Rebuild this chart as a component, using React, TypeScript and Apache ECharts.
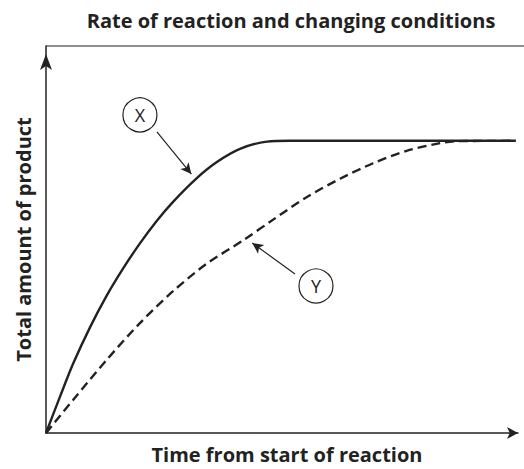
import React, { useEffect, useRef } from "react";
import * as echarts from "echarts";

// Time (arbitrary units, 0–100) and total product (0–100)
const curveX: [number, number][] = [
  [0, 0], [2.97, 9.4], [5.78, 18.0], [9.32, 27.3], [12.86, 35.5], [16.38, 42.6],
  [19.9, 49.0], [23.45, 54.8], [26.97, 59.8], [31.9, 65.8], [36.2, 70.0],
  [41.1, 73.4], [46.8, 75.3], [51.7, 75.5], [99.5, 75.5],
];
const curveY: [number, number][] = [
  [0, 0], [5.78, 8.6], [12.86, 18.9], [19.9, 28.4], [26.97, 36.7], [34.0, 43.7],
  [41.8, 49.8], [48.2, 55.2], [55.2, 60.9], [62.3, 65.7], [69.3, 69.7],
  [76.4, 72.9], [83.5, 74.9], [87.0, 75.4], [99.5, 75.5],
];
// Annotation labels: [x, y] of circle, arrow start, arrow end
const labelX = { name: "X", circle: [19.9, 82.2], from: [23.5, 77.8], to: [30.8, 66.9] };
const labelY = { name: "Y", circle: [57.2, 38.0], from: [52.75, 41.1], to: [43.7, 49.1] };

const titleText = "Rate of reaction and changing conditions";
const xName = "Time from start of reaction";
const yName = "Total amount of product";

const FONT = "'Open Sans', 'Noto Sans', sans-serif";

function annot(l: typeof labelX) {
  return {
    markPoint: {
      silent: true,
      symbol: "circle",
      symbolSize: 34,
      itemStyle: { color: "#ffffff", borderColor: "#222", borderWidth: 1.2 },
      label: { show: true, formatter: l.name, color: "#222", fontSize: 18, fontFamily: FONT },
      data: [{ coord: l.circle }],
    },
    markLine: {
      silent: true,
      symbol: ["none", "arrow"],
      symbolSize: [8, 11],
      label: { show: false },
      lineStyle: { type: "solid", color: "#222", width: 1.2 },
      data: [[{ coord: l.from }, { coord: l.to }]],
    },
  };
}

export default function App() {
  const ref = useRef<HTMLDivElement>(null);
  useEffect(() => {
    if (!ref.current) return;
    const chart = echarts.init(ref.current, undefined, { renderer: "svg" });
    chart.setOption({
      animation: false,
      backgroundColor: "#ffffff",
      title: {
        text: titleText,
        left: 286,
        textAlign: "center",
        top: 5,
        textStyle: { fontFamily: FONT, fontWeight: "bold", fontSize: 20, color: "#222" },
      },
      grid: { left: 46, top: 46, right: 6, bottom: 36 },
      xAxis: {
        type: "value",
        min: 0,
        max: 100,
        name: xName,
        nameLocation: "middle",
        nameGap: 11,
        nameTextStyle: { fontFamily: FONT, fontWeight: "bold", fontSize: 20, color: "#222", padding: [0, 0, 0, 10] },
        axisLine: { show: true, onZero: false, symbol: ["none", "arrow"], symbolSize: [9, 11], lineStyle: { color: "#222", width: 1.5 } },
        axisTick: { show: false },
        axisLabel: { show: false },
        splitLine: { show: false },
      },
      yAxis: {
        type: "value",
        min: 0,
        max: 100,
        name: yName,
        nameLocation: "middle",
        nameGap: 13,
        nameTextStyle: { fontFamily: FONT, fontWeight: "bold", fontSize: 20, color: "#222" },
        axisLine: { show: true, onZero: false, symbol: ["none", "arrow"], symbolSize: [9, 16], symbolOffset: [0, -8], lineStyle: { color: "#222", width: 1.5 } },
        axisTick: { show: false },
        axisLabel: { show: false },
        splitLine: { show: false },
      },
      graphic: [
        { type: "line", shape: { x1: 46, y1: 46, x2: 524, y2: 46 }, style: { stroke: "#6a6a6a", lineWidth: 1.5 }, silent: true },
      ],
      series: [
        {
          name: "Y",
          type: "line",
          data: curveY,
          smooth: 0.3,
          showSymbol: false,
          lineStyle: { color: "#222", width: 2.4, type: [9, 5] },
          z: 2,
          ...annot(labelY),
        },
        {
          name: "X",
          type: "line",
          data: curveX,
          smooth: 0.3,
          showSymbol: false,
          lineStyle: { color: "#222", width: 2.4, type: "solid" },
          z: 3,
          ...annot(labelX),
        },
      ],
    });
    return () => chart.dispose();
  }, []);
  return <div ref={ref} style={{ position: "absolute", left: 0, top: 0, width: 524, height: 469 }} />;
}
